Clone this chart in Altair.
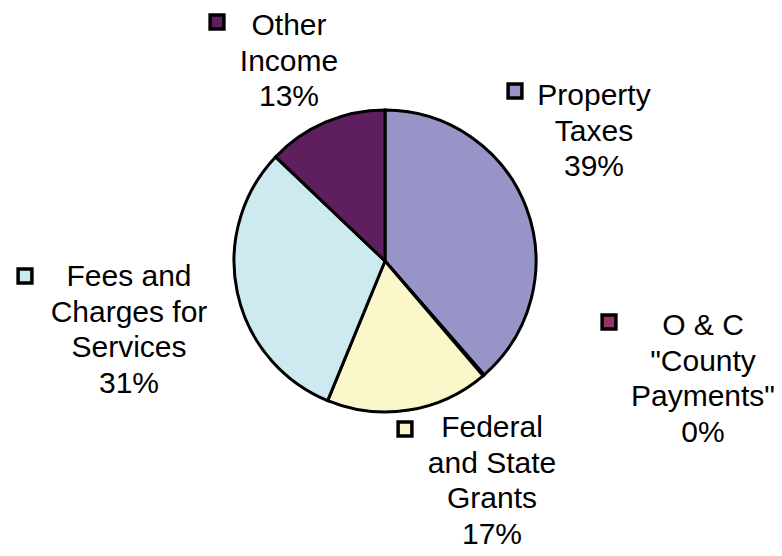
import altair as alt
import pandas as pd

# ---- data ----
categories = [
    "Property Taxes",
    'O & C "County Payments"',
    "Federal and State Grants",
    "Fees and Charges for Services",
    "Other Income",
]
label_lines = [
    "Property\nTaxes",
    'O & C\n"County\nPayments"',
    "Federal\nand State\nGrants",
    "Fees and\nCharges for\nServices",
    "Other\nIncome",
]
shares = [38.6, 0.15, 17.45, 30.9, 12.9]

# ---- styles / layout ----
colors = ["#9794C8", "#993366", "#FAF7CB", "#CDEAF0", "#5F1F5F"]
label_x = [586, 695, 484, 121, 281]
label_y = [97, 327, 429, 278, 27]
key_x = [507, 601, 397, 17, 209]
key_y = [83, 314, 421, 268, 14]
CX, CY, R = 377, 253, 151
FONT = "Liberation Sans"

total = sum(shares)
df = pd.DataFrame({
    "category": categories,
    "share": shares,
    "idx": list(range(len(categories))),
    "label": [f"{l}\n{round(s / total * 100)}%" for l, s in zip(label_lines, shares)],
    "lx": label_x,
    "ly": label_y,
    "kx": key_x,
    "ky": key_y,
})

color_scale = alt.Scale(domain=categories, range=colors)
base = alt.Chart(df)

pie = base.mark_arc(outerRadius=R, stroke="black", strokeWidth=3).encode(
    theta=alt.Theta("share:Q", stack=True),
    color=alt.Color("category:N", scale=color_scale, legend=None),
    order=alt.Order("idx:Q"),
    x=alt.value(CX),
    y=alt.value(CY),
)

labels = base.mark_text(
    font=FONT, fontSize=30, lineHeight=35.5, align="center",
    baseline="alphabetic", lineBreak="\n", color="black",
).encode(
    x=alt.X("lx:Q", scale=None),
    y=alt.Y("ly:Q", scale=None),
    text="label:N",
)

keys = base.mark_square(size=190, stroke="black", strokeWidth=3.5, opacity=1).encode(
    x=alt.X("kx:Q", scale=None),
    y=alt.Y("ky:Q", scale=None),
    fill=alt.Color("category:N", scale=color_scale, legend=None),
)

chart = alt.layer(pie, keys, labels).properties(
    width=766, height=540, padding=0,
    autosize=alt.AutoSizeParams(type="none"),
).configure_view(stroke=None)

chart.save("out.html", embed_options={"renderer": "svg", "actions": False})
